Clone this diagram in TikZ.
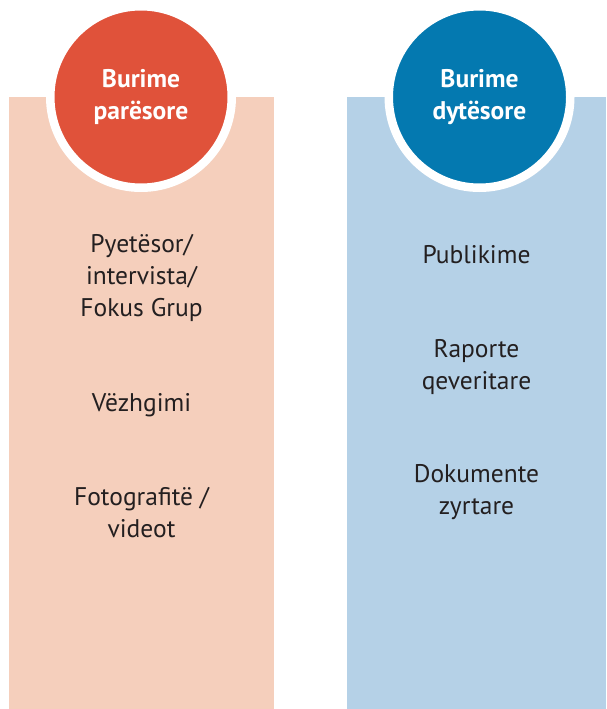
\documentclass[tikz,border=0pt]{standalone}
\usepackage{fontspec}
\setmainfont{PT Sans}
\usepackage{xcolor}
\usetikzlibrary{positioning}

\definecolor{redc}{HTML}{E0523A}
\definecolor{redpale}{HTML}{F5CFBC}
\definecolor{bluec}{HTML}{0479B0}
\definecolor{bluepale}{HTML}{B5D1E7}
\definecolor{txt}{HTML}{231F20}

\begin{document}
\begin{tikzpicture}[
    x=1pt, y=-1pt,
    head/.style={circle, fill=#1, draw=white, line width=8.5pt, minimum size=181.5pt, inner sep=0pt, align=center, text=white, font=\fontsize{25.5}{32}\selectfont\bfseries},
    item/.style={align=center, text=txt, font=\fontsize{25.5}{32}\selectfont}
]
\useasboundingbox (0,0) rectangle (606,709);

% Columns
\fill[redpale] (9,97) rectangle (274,709);
\fill[bluepale] (347,97) rectangle (606,709);

% Headers
\node[head=redc] (h1) at (141,97) {Burime\\parësore};
\node[head=bluec] (h2) at (479.5,97) {Burime\\dytësore};

% Left items
\node[item] (p1) at (141.5,278) {Pyetësor/\\intervista/\\Fokus Grup};
\node[item] (p2) at (141.5,405) {Vëzhgimi};
\node[item] (p3) at (141.5,513) {Fotografitë /\\videot};

% Right items
\node[item] (d1) at (476.5,255) {Publikime};
\node[item] (d2) at (476.5,367) {Raporte\\qeveritare};
\node[item] (d3) at (476.5,492) {Dokumente\\zyrtare};
\end{tikzpicture}
\end{document}
